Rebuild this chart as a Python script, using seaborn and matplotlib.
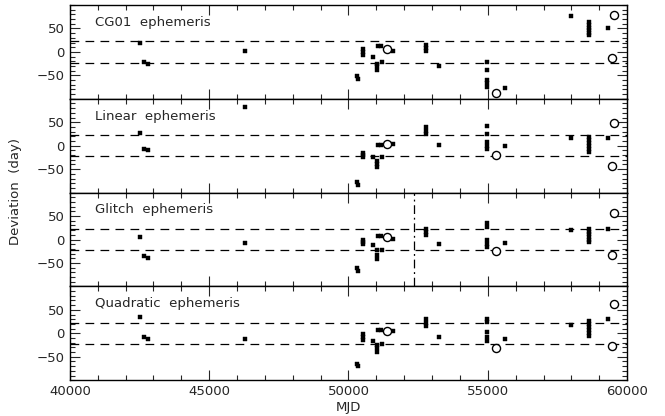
import numpy as np
import pandas as pd
import matplotlib
matplotlib.use('Agg')
import matplotlib.pyplot as plt
from matplotlib.ticker import MultipleLocator
import seaborn as sns

# MJD of the timing points (shared by all four panels)
mjd = [42510, 42670, 42810, 46280, 50310, 50330, 50530, 50530, 50530, 50890,
       51030, 51030, 51030, 51190, 51070, 51160, 51590, 52780, 52780, 52780,
       53260, 54960, 54960, 54960, 54960, 54960, 55620, 57990,
       58640, 58640, 58640, 58640, 58640, 58640, 59330]

dev_cg01 = [19, -21, -25, 2, -52, -58, 6, 0, -6, -11,
            -25, -31, -38, -21, 12, 12, 2, 15, 8, 1,
            -30, -21, -38, -60, -67, -75, -77, 77,
            64, 58, 52, 46, 41, 36, 50]
dev_linear = [28, -7, -9, 82, -78, -84, -15, -20, -25, -24,
              -32, -39, -46, -25, 1, 2, 3, 39, 32, 25,
              2, 43, 26, 7, 0, -7, -1, 17,
              18, 12, 5, -1, -8, -14, 16]
dev_glitch = [5, -36, -40, -7, -61, -67, 0, -5, -10, -11,
              -23, -32, -41, -23, 8, 8, 1.5, 23, 16, 9,
              -9, 36, 26, -2, -9, -16, -7, 21,
              23, 17, 11, 5, 0, -6, 23]
dev_quad = [34, -8, -13, -12, -65, -70, -2, -8, -15, -16,
            -24, -32, -40, -22, 8, 8, 4, 30, 23, 16,
            -7, 31, 25, 3, -7, -17, -12, 18,
            26, 19, 13, 7, 0, -6, 30]

# open circles
circ_mjd = [51400, 55300, 59530, 59450]
circ_cg01 = [7, -87, 78, -12]
circ_linear = [3.5, -20, 48, -44]
circ_glitch = [5, -25, 56, -34]
circ_quad = [5, -32, 63, -26]

labels = ['CG01  ephemeris', 'Linear  ephemeris', 'Glitch  ephemeris', 'Quadratic  ephemeris']
band = 23
glitch_mjd = 52350

sns.set_style('ticks')
plt.rcParams['font.family'] = ['DejaVu Sans']

fig, axes = plt.subplots(4, 1, figsize=(6.65, 4.16), dpi=100, sharex=True)
fig.subplots_adjust(left=0.105, right=0.943, top=0.988, bottom=0.086, hspace=0)

devs = [dev_cg01, dev_linear, dev_glitch, dev_quad]
circs = [circ_cg01, circ_linear, circ_glitch, circ_quad]

for i, ax in enumerate(axes):
    df = pd.DataFrame({'mjd': mjd, 'dev': devs[i]})
    sns.scatterplot(data=df, x='mjd', y='dev', ax=ax, marker='s', s=10,
                    color='black', edgecolor='black', linewidth=0.3)
    dc = pd.DataFrame({'mjd': circ_mjd, 'dev': circs[i]})
    sns.scatterplot(data=dc, x='mjd', y='dev', ax=ax, marker='o', s=34,
                    facecolor='white', edgecolor='black', linewidth=1.0, zorder=5)
    ax.axhline(band, color='black', lw=0.9, dashes=(7, 5))
    ax.axhline(-band, color='black', lw=0.9, dashes=(7, 5))
    if i == 2:
        ax.axvline(glitch_mjd, color='black', lw=0.9, dashes=(7, 3, 1.5, 3))
    ax.text(40900, 63, labels[i], fontsize=9.5, va='center', ha='left')

    ax.set_xlim(40000, 60000)
    ax.set_ylim(-100, 100)
    ax.set_yticks([-50, 0, 50])
    ax.yaxis.set_minor_locator(MultipleLocator(10))
    ax.xaxis.set_major_locator(MultipleLocator(5000))
    ax.xaxis.set_minor_locator(MultipleLocator(1000))
    ax.tick_params(which='both', direction='in', top=True, right=True, labelsize=9.5, width=0.8)
    ax.tick_params(which='major', length=7)
    ax.tick_params(which='minor', length=3.5)
    ax.set_xlabel('')
    ax.set_ylabel('')
    for sp in ax.spines.values():
        sp.set_linewidth(1.0)
        sp.set_color('black')

axes[-1].set_xlabel('MJD', fontsize=9.5, labelpad=2)
fig.text(0.024, 0.54, 'Deviation  (day)', rotation=90, va='center', ha='center', fontsize=9.5)

fig.savefig('out.png', dpi=100)
